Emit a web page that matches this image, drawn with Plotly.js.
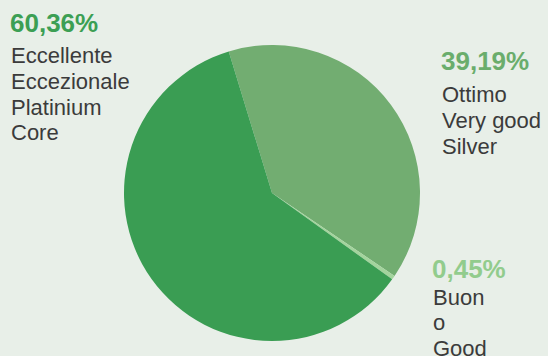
<!DOCTYPE html>
<html><head><meta charset="utf-8">
<script src="https://cdn.plot.ly/plotly-3.0.1.min.js"></script>
<style>html,body{margin:0;padding:0;background:#e8efe8;}#chart{width:548px;height:356px;}</style>
</head><body><div id="chart"></div>
<script>
const categories = ["Ottimo / Very good / Silver", "Buono / Good", "Eccellente / Eccezionale / Platinium Core"];
const values = [39.19, 0.45, 60.36];
const pctLabels = ["39,19%", "0,45%", "60,36%"];
const labelLines = [["Ottimo", "Very good", "Silver"], ["Buon", "o", "Good"], ["Eccellente", "Eccezionale", "Platinium", "Core"]];
const sliceColors = ["#72ad71", "#a3d49d", "#3a9d53"];
const pctColors = ["#6aad6c", "#92cc8d", "#3c9f54"];

const W = 548, H = 356;
const px = x => x / W, py = y => 1 - y / H;

// label group positions: [left x, pct center y, first line center y]
const groupPos = [[440, 61.5, 95], [431, 269, 297], [9, 23, 56]];
const lineStep = 25.5;

const annotations = [];
groupPos.forEach((g, i) => {
  annotations.push({xref:'paper', yref:'paper', x:px(g[0]), y:py(g[1]), xanchor:'left', yanchor:'middle',
    text:'<b>'+pctLabels[i]+'</b>', showarrow:false, borderpad:0,
    font:{family:'Liberation Sans, Arial, sans-serif', size:26, color:pctColors[i]}});
  labelLines[i].forEach((t, j) => {
    annotations.push({xref:'paper', yref:'paper', x:px(g[0]+1), y:py(g[2] + j*lineStep), xanchor:'left', yanchor:'middle',
      text:t, showarrow:false, borderpad:0,
      font:{family:'Liberation Sans, Arial, sans-serif', size:22, color:'#3b3b3b'}});
  });
});

const cx = 272, cy = 193, r = 148;
const data = [{
  type:'pie', values:values, labels:categories, sort:false, direction:'clockwise', rotation:-17,
  marker:{colors:sliceColors, line:{width:0}}, textinfo:'none', hoverinfo:'label+percent',
  domain:{x:[px(cx-r), px(cx+r)], y:[py(cy+r), py(cy-r)]}
}];
const layout = {
  width:W, height:H, margin:{l:0,r:0,t:0,b:0}, showlegend:false,
  paper_bgcolor:'#e8efe8', plot_bgcolor:'#e8efe8', annotations:annotations
};
Plotly.newPlot('chart', data, layout, {displayModeBar:false, staticPlot:true});
</script></body></html>
